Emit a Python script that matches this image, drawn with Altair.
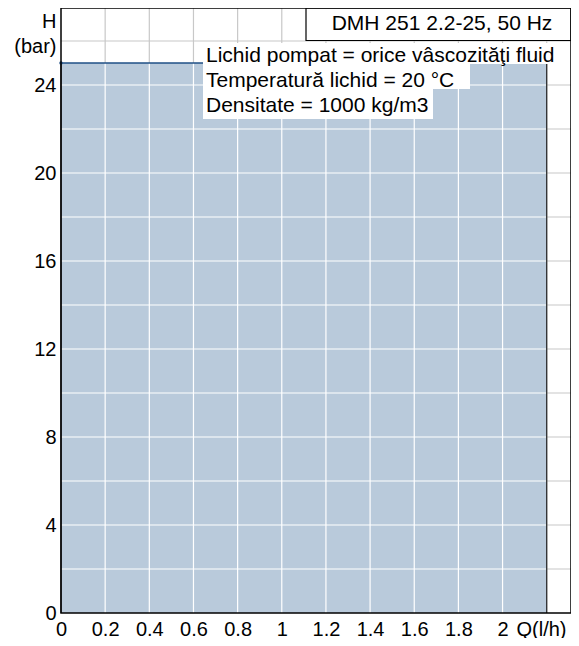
import altair as alt
import pandas as pd

# ---- data ----
Q = [0.0, 2.2]            # flow (l/h)
H = [25.0, 25.0]          # head (bar)
x_ticks = [0, 0.2, 0.4, 0.6, 0.8, 1.0, 1.2, 1.4, 1.6, 1.8, 2.0]
y_ticks = [0, 4, 8, 12, 16, 20, 24]
x_grid = [0.2, 0.4, 0.6, 0.8, 1.0, 1.2, 1.4, 1.6, 1.8, 2.0, 2.2]
y_grid = [2, 4, 6, 8, 10, 12, 14, 16, 18, 20, 22, 24, 26]
notes = ["Lichid pompat = orice vâscozităţi fluid",
         "Temperatură lichid = 20 °C",
         "Densitate = 1000 kg/m3"]
header = "DMH 251 2.2-25, 50 Hz"
x_domain = [0, 2.31]
y_domain = [0, 27.5]

# ---- layout / style ----
W, HGT = 510, 605
FONT = "Liberation Sans"
FILL = "#b9cadb"
LINE = "#1f4f86"
GRID = "#c8c8c8"
note_boxes = [(142, 496, 35, 56), (142, 409, 56, 81), (142, 372, 81, 111)]
note_y = [54, 79, 104]
note_x = 145

xs = alt.Scale(domain=x_domain, nice=False, zero=False)
ys = alt.Scale(domain=y_domain, nice=False, zero=False)
xa = alt.Axis(values=x_ticks, format="~g", title="Q(l/h)", labelFlush=False,
              titleX=455, titleY=6, titleAlign="left",
              titleBaseline="top", titleAnchor="start")
ya = alt.Axis(values=y_ticks, format="~g", title=["H", "(bar)"], labelFlush=False,
              titleAngle=0, titleAlign="right", titleX=-5,
              titleY=19, titleBaseline="alphabetic", titleLineHeight=25)

curve = pd.DataFrame({"Q": Q, "H": H})
qmax, hmax = max(Q), max(H)

gx = pd.DataFrame({"Q": x_grid})
gy = pd.DataFrame({"H": y_grid})
wx = pd.DataFrame({"Q": [v for v in x_grid if v < qmax - 1e-9], "y0": 0.0, "y1": hmax})
wy = pd.DataFrame({"H": [v for v in y_grid if v < hmax], "x0": 0.0, "x1": qmax})

grid_v = alt.Chart(gx).mark_rule(color=GRID, strokeWidth=1.2).encode(
    x=alt.X("Q:Q", scale=xs, axis=xa))
grid_h = alt.Chart(gy).mark_rule(color=GRID, strokeWidth=1.2).encode(
    y=alt.Y("H:Q", scale=ys, axis=ya))

area = alt.Chart(curve).mark_area(color=FILL, opacity=1).encode(
    x=alt.X("Q:Q", scale=xs, axis=xa),
    y=alt.Y("H:Q", scale=ys, axis=ya),
)

white_v = alt.Chart(wx).mark_rule(color="white", strokeWidth=1.2).encode(
    x=alt.X("Q:Q", scale=xs, axis=xa), y=alt.Y("y0:Q", scale=ys, axis=ya), y2="y1:Q")
white_h = alt.Chart(wy).mark_rule(color="white", strokeWidth=1.2).encode(
    y=alt.Y("H:Q", scale=ys, axis=ya), x=alt.X("x0:Q", scale=xs, axis=xa), x2="x1:Q")

edges = pd.DataFrame({"Q": [0.0, qmax], "y0": [0.0, 0.0], "y1": [hmax, hmax]})
edge = alt.Chart(edges).mark_rule(color="#222222", strokeWidth=1.2).encode(
    x=alt.X("Q:Q", scale=xs, axis=xa), y=alt.Y("y0:Q", scale=ys, axis=ya), y2="y1:Q")

line = alt.Chart(curve).mark_line(color=LINE, strokeWidth=1.5).encode(
    x=alt.X("Q:Q", scale=xs, axis=xa), y=alt.Y("H:Q", scale=ys, axis=ya))
start_pt = alt.Chart(curve.head(1)).mark_point(color=LINE, filled=True, size=12, opacity=1).encode(
    x=alt.X("Q:Q", scale=xs, axis=xa), y=alt.Y("H:Q", scale=ys, axis=ya))

layers = [grid_v, grid_h, area, white_v, white_h, edge, line, start_pt]

for (x0, x1, y0, y1) in note_boxes:
    layers.append(alt.Chart(pd.DataFrame({"k": [0]})).mark_rect(color="white").encode(
        x=alt.value(x0), x2=alt.value(x1), y=alt.value(y0), y2=alt.value(y1)))

for t, yy in zip(notes, note_y):
    layers.append(alt.Chart(pd.DataFrame({"t": [t]})).mark_text(
        align="left", baseline="alphabetic", font=FONT, fontSize=21, color="black").encode(
        text="t:N", x=alt.value(note_x), y=alt.value(yy)))

layers.append(alt.Chart(pd.DataFrame({"k": [0]})).mark_rect(
    fill="white", stroke="black", strokeWidth=1.2).encode(
    x=alt.value(245), x2=alt.value(W), y=alt.value(0), y2=alt.value(32.5)))
layers.append(alt.Chart(pd.DataFrame({"t": [header]})).mark_text(
    align="center", baseline="middle", font=FONT, fontSize=21, color="black").encode(
    text="t:N", x=alt.value(381), y=alt.value(16)))

layers.append(alt.Chart(pd.DataFrame({"k": [0]})).mark_rect(
    filled=False, stroke="black", strokeWidth=1.5).encode(
    x=alt.value(0), x2=alt.value(W), y=alt.value(0), y2=alt.value(HGT)))

chart = alt.layer(*layers).properties(
    width=W, height=HGT,
    autosize=alt.AutoSizeParams(type="none"),
    padding={"left": 53, "top": 0, "right": 0, "bottom": 25},
).configure_view(stroke=None).configure_axis(
    grid=False, domain=False, ticks=False, labelFont=FONT, titleFont=FONT,
    labelFontSize=20, titleFontSize=20, titleFontWeight="normal",
    labelColor="black", titleColor="black", labelPadding=5,
).configure_axisX(labelBaseline="top", labelPadding=6).configure_axisY(
    labelBaseline="middle")

chart.save("out.html", embed_options={"renderer": "svg", "actions": False})
